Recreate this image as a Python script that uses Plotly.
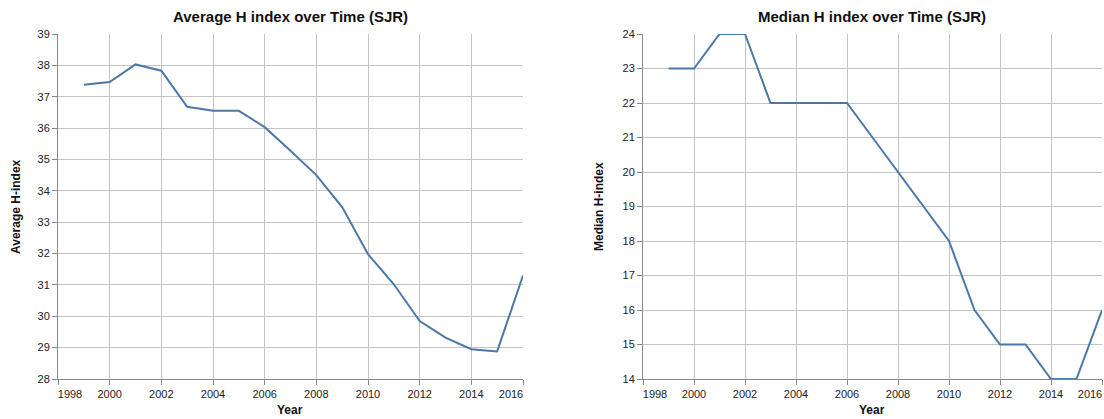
import plotly.graph_objects as go

years = [1999, 2000, 2001, 2002, 2003, 2004, 2005, 2006, 2007,
         2008, 2009, 2010, 2011, 2012, 2013, 2014, 2015, 2016]
avg_h = [37.38, 37.47, 38.03, 37.83, 36.68, 36.55, 36.55, 36.03, 35.28,
         34.5, 33.48, 31.98, 31.02, 29.85, 29.32, 28.95, 28.88, 31.3]
median_h = [23, 23, 24, 24, 22, 22, 22, 22, 21,
            20, 19, 18, 16, 15, 15, 14, 14, 16]

year_ticks = list(range(2000, 2015, 2))

W, H = 1104, 419
LINE = "#4c78a8"
GRID = "#c4c4c4"
AXIS = "#888888"
FONT = "Liberation Sans, Arial, Helvetica, sans-serif"


def px_x(v):
    return v / W


def px_y(v):
    return 1 - v / H


fig = go.Figure()
fig.add_trace(go.Scatter(x=years, y=avg_h, mode="lines", xaxis="x", yaxis="y",
                         line=dict(color=LINE, width=2), showlegend=False))
fig.add_trace(go.Scatter(x=years, y=median_h, mode="lines", xaxis="x2", yaxis="y2",
                         line=dict(color=LINE, width=2), showlegend=False))

ydom = [px_y(379), px_y(34)]
common_x = dict(range=[1998, 2016], showgrid=True, gridcolor=GRID, gridwidth=1,
                showline=True, linecolor=AXIS, linewidth=1, ticks="outside",
                ticklen=5, tickcolor=AXIS, zeroline=False,
                tickfont=dict(size=11, color="#222"), tickvals=year_ticks)
common_y = dict(showgrid=True, gridcolor=GRID, gridwidth=1, showline=True,
                linecolor=AXIS, linewidth=1, ticks="outside", ticklen=5,
                tickcolor=AXIS, zeroline=False, dtick=1,
                tickfont=dict(size=11, color="#222"))


# flush end labels like vega does
def end_axis(anchor, match, val, shift):
    return dict(overlaying=match, matches=match, anchor=anchor, range=[1998, 2016],
                tickvals=[val], ticktext=[str(val)], ticklabelshift=shift,
                showgrid=True, gridcolor=GRID, gridwidth=1,
                showline=False, ticks="outside", ticklen=5,
                tickcolor=AXIS, zeroline=False, side="bottom",
                tickfont=dict(size=11, color="#222"))


fig.update_layout(
    width=W, height=H,
    margin=dict(l=0, r=0, t=0, b=0, autoexpand=False),
    plot_bgcolor="white", paper_bgcolor="white",
    font=dict(family=FONT, color="#222"),
    xaxis=dict(domain=[px_x(58), px_x(523)], anchor="y", **common_x),
    yaxis=dict(domain=ydom, anchor="x", range=[28, 39], **common_y),
    xaxis2=dict(domain=[px_x(643), px_x(1102)], anchor="y2", **common_x),
    yaxis2=dict(domain=ydom, anchor="x2", range=[14, 24], **common_y),
    xaxis3=end_axis("y", "x", 1998, 12),
    xaxis4=end_axis("y", "x", 2016, -12),
    xaxis5=end_axis("y2", "x2", 1998, 12),
    xaxis6=end_axis("y2", "x2", 2016, -12),
)

# invisible traces so the overlay axes get drawn
for xa, ya in [("x3", "y"), ("x4", "y"), ("x5", "y2"), ("x6", "y2")]:
    fig.add_trace(go.Scatter(x=[2000], y=[None], xaxis=xa, yaxis=ya,
                             showlegend=False, hoverinfo="skip"))

ann = [
    ("Average H index over Time (SJR)", 290, 16, 0, 15),
    ("Median H index over Time (SJR)", 872, 16, 0, 15),
    ("Year", 290, 410, 0, 12),
    ("Year", 872, 410, 0, 12),
    ("Average H-index", 16, 207, -90, 12),
    ("Median H-index", 599, 207, -90, 12),
]
for text, x, y, ang, size in ann:
    fig.add_annotation(text="<b>%s</b>" % text, x=px_x(x), y=px_y(y),
                       xref="paper", yref="paper", showarrow=False,
                       textangle=ang, font=dict(size=size, color="#111"),
                       xanchor="center", yanchor="middle")

# drop the default page margin so the figure fills the window exactly
fig.write_html("out.html", config={"displayModeBar": False},
               post_script="document.body.style.margin='0';"
                           "document.body.style.overflow='hidden';")
